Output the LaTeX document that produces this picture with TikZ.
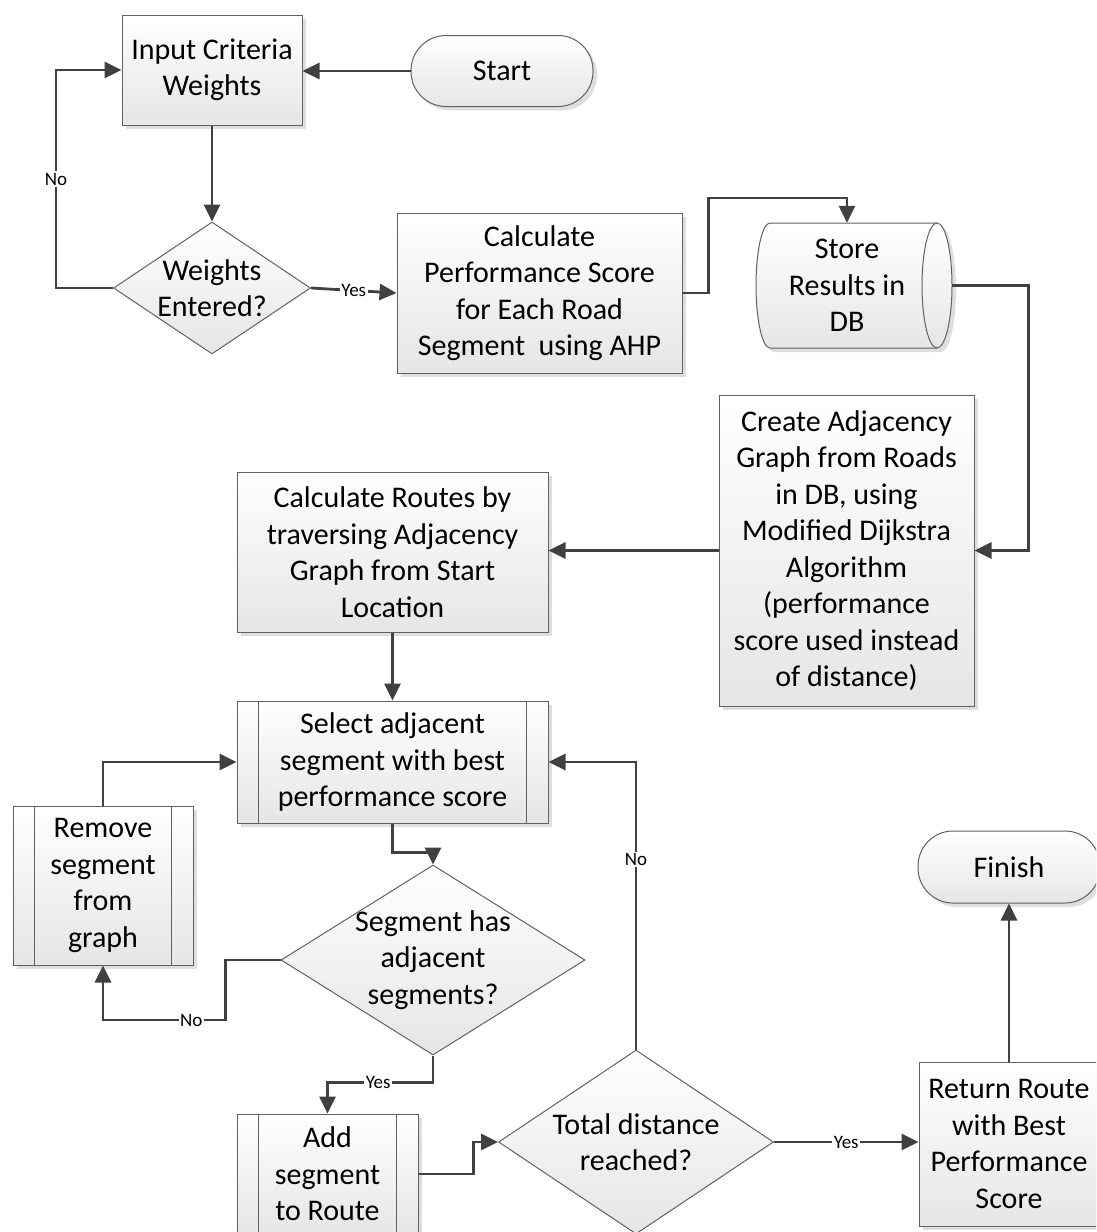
\documentclass[tikz,border=0pt]{standalone}
\usepackage{fontspec}
\setmainfont{Carlito}
\usetikzlibrary{shapes.geometric, arrows.meta, shadows, calc}
\newcommand\flowtxt{\fontsize{30pt}{36.5pt}\selectfont}
\newcommand\edgetxt{\fontsize{19pt}{22pt}\selectfont}

\begin{document}
\begin{tikzpicture}[x=1pt, y=-1pt, font=\flowtxt,
  shapeline/.style={draw=black!62, line width=1pt},
  shapebase/.style={shapeline, top color=white, bottom color=black!10, inner sep=0pt, align=center},
  shadowed/.style={drop shadow={shadow xshift=4pt, shadow yshift=-4pt, fill=black!13, opacity=1}},
  process/.style={rectangle, shapebase, shadowed},
  subproc/.style={process, path picture={
      \draw[shapeline]
        ([xshift=21.5pt]path picture bounding box.north west) -- ([xshift=21.5pt]path picture bounding box.south west)
        ([xshift=-21.5pt]path picture bounding box.north east) -- ([xshift=-21.5pt]path picture bounding box.south east);}},
  terminal/.style={rectangle, rounded corners=35pt, shapebase, shadowed},
  decision/.style={diamond, shapebase},
  conn/.style={draw=black!75, line width=2.8pt, -{Triangle[length=17pt,width=16pt]}},
  lbl/.style={font=\edgetxt, fill=white, inner sep=1.5pt, text=black}
]
\path[use as bounding box] (0,0) rectangle (1096,1232);
\clip (0,0) rectangle (1096,1232);

% ---- shapes ----
\node[process, minimum width=180pt, minimum height=110pt] (input) at (212,70) {Input Criteria\\Weights};
\node[terminal, minimum width=182pt, minimum height=71pt] (start) at (502,71) {Start};
\node[decision, minimum width=197pt, minimum height=132pt,
      label={[align=center]center:Weights\\Entered?}] (wdec) at (212,288) {};
\node[process, minimum width=285pt, minimum height=160pt] (calc) at (539.5,293)
  {Calculate\\Performance Score\\for Each Road\\Segment\ \ using AHP};

% stored data (horizontal cylinder)
\path[shapeline, top color=white, bottom color=black!10, shadowed]
  (770,223) -- (937,223) arc[start angle=-90, end angle=90, x radius=15, y radius=62.5]
  -- (770,348) arc[start angle=90, end angle=270, x radius=14, y radius=62.5] -- cycle;
\draw[shapeline] (937,223) arc[start angle=-90, end angle=-270, x radius=15, y radius=62.5];
\node[minimum width=196pt, minimum height=125pt, inner sep=0pt,
      label={[align=center, xshift=-7pt]center:Store\\Results in\\DB}] (db) at (854,285.5) {};

\node[process, minimum width=255pt, minimum height=311pt] (create) at (846.5,550.5)
  {Create Adjacency\\Graph from Roads\\in DB, using\\Modified Dijkstra\\Algorithm\\(performance\\score used instead\\of distance)};
\node[process, minimum width=311pt, minimum height=160pt] (routes) at (392.5,552)
  {Calculate Routes by\\traversing Adjacency\\Graph from Start\\Location};
\node[subproc, minimum width=311pt, minimum height=122pt] (select) at (392.5,762)
  {Select adjacent\\segment with best\\performance score};
\node[subproc, minimum width=180pt, minimum height=159pt] (remove) at (103,885.5)
  {Remove\\segment\\from\\graph};
\node[decision, minimum width=304pt, minimum height=190pt,
      label={[align=center]center:Segment has\\adjacent\\segments?}] (sdec) at (433,960) {};
\node[subproc, minimum width=181pt, minimum height=120pt] (add) at (327.5,1174)
  {Add\\segment\\to Route};
\node[decision, minimum width=275pt, minimum height=184pt,
      label={[align=center]center:Total distance\\reached?}] (tdec) at (636,1142) {};
\node[process, minimum width=180pt, minimum height=164pt] (ret) at (1009,1144)
  {Return Route\\with Best\\Performance\\Score};
\node[terminal, minimum width=182pt, minimum height=72pt] (finish) at (1009,867) {Finish};

% ---- connectors ----
\draw[conn] (start.west) -- (start.west -| input.east);
\draw[conn] (input.south) -- (wdec.north);
\draw[conn] (wdec.west) -- ++(-57,0) -- node[lbl]{No} ++(0,-218) -- (input.west);
\draw[conn] (wdec.east) -- node[lbl]{Yes} (calc.west);
\draw[conn] (calc.east) -- ++(26,0) -- ++(0,-95) -| ([xshift=-7pt]db.north);
\draw[conn] (db.east) -- ++(76,0) |- (create.east);
\draw[conn] (create.west) -- (create.west -| routes.east);
\draw[conn] (routes.south) -- (select.north);
\draw[conn] (select.south) -- ++(0,29) -| (sdec.north);
\draw[conn] (sdec.west) -- ++(-55,0) -- ++(0,60) -| node[lbl, pos=0.14]{No} (remove.south);
\draw[conn] (remove.north) |- (select.west);
\draw[conn] (sdec.south) -- ++(0,27) -| node[lbl, pos=0.26]{Yes} (add.north);
\draw[conn] (add.east) -- ++(55,0) |- (tdec.west);
\draw[conn] (tdec.north) |- node[lbl, pos=0.33]{No} (select.east);
\draw[conn] (tdec.east) -- node[lbl]{Yes} (tdec.east -| ret.west);
\draw[conn] (ret.north) -- (finish.south);
\end{tikzpicture}
\end{document}
